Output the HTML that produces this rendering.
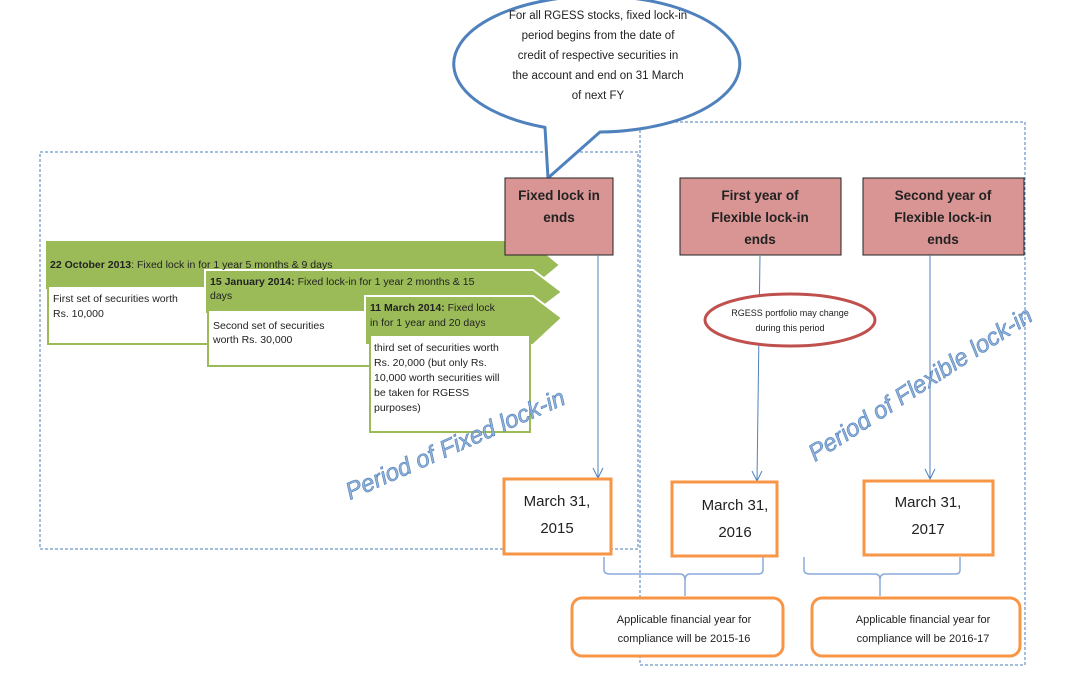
<!DOCTYPE html>
<html><head><style>
html,body{margin:0;padding:0;background:#fff;}
svg{display:block;font-family:"Liberation Sans",sans-serif;}
</style></head><body>
<svg width="1080" height="674" viewBox="0 0 1080 674" xmlns="http://www.w3.org/2000/svg">
<!-- dashed boxes -->
<rect x="40" y="152" width="598" height="397" fill="none" stroke="#4a7ebb" stroke-width="1" stroke-dasharray="3,2"/>
<rect x="640" y="122" width="385" height="543" fill="none" stroke="#4a7ebb" stroke-width="1" stroke-dasharray="3,2"/>

<!-- green arrows -->
<g stroke="#fff" stroke-width="2">
<polygon points="45,240 530,240 560,265 530,290 45,290" fill="#9bbb59"/>
<rect x="48" y="286" width="162" height="58" fill="#fff" stroke="#9bbb59"/>
<polygon points="205,270 533,270 562,292 533,314 205,314" fill="#9bbb59"/>
<rect x="208" y="310" width="162" height="56" fill="#fff" stroke="#9bbb59"/>
<polygon points="365,296 533,296 562,318 533,345 365,345" fill="#9bbb59"/>
<rect x="370" y="335" width="160" height="97" fill="#fff" stroke="#9bbb59"/>
</g>
<g font-size="10.5" fill="#222">
<text x="50" y="268"><tspan font-weight="bold">22 October 2013</tspan>: Fixed lock in for 1 year 5 months &amp; 9 days</text>
<text x="53" y="302">First set of securities worth</text>
<text x="53" y="317">Rs. 10,000</text>
<text x="210" y="285"><tspan font-weight="bold">15 January 2014:</tspan> Fixed lock-in for 1 year  2 months &amp; 15</text>
<text x="210" y="299">days</text>
<text x="213" y="329">Second set of securities</text>
<text x="213" y="343">worth Rs. 30,000</text>
<text x="370" y="311"><tspan font-weight="bold">11 March 2014:</tspan> Fixed lock</text>
<text x="370" y="326">in for 1 year and 20 days</text>
<text x="374" y="351">third set of securities worth</text>
<text x="374" y="366">Rs. 20,000 (but only Rs.</text>
<text x="374" y="381">10,000 worth securities will</text>
<text x="374" y="396">be taken for RGESS</text>
<text x="374" y="411">purposes)</text>
</g>

<!-- callout -->
<path d="M 545,127.4 A 143 68 0 1 1 600,132 L 548,178 Z" fill="#fff" stroke="#4f81bd" stroke-width="3" stroke-linejoin="round"/>
<g font-size="11.5" fill="#222" text-anchor="middle">
<text x="598" y="19">For all RGESS stocks, fixed lock-in</text>
<text x="598" y="39">period begins from the date of</text>
<text x="598" y="59">credit of respective securities in</text>
<text x="598" y="79">the account and end on 31 March</text>
<text x="598" y="99">of next FY</text>
</g>

<!-- pink boxes -->
<g fill="#d99594" stroke="#222" stroke-width="1">
<rect x="505" y="178" width="108" height="77"/>
<rect x="680" y="178" width="161" height="77"/>
<rect x="863" y="178" width="161" height="77"/>
</g>
<g font-size="13.5" font-weight="bold" fill="#222" text-anchor="middle">
<text x="559" y="200">Fixed lock in</text>
<text x="559" y="222">ends</text>
<text x="760" y="200">First year of</text>
<text x="760" y="222">Flexible lock-in</text>
<text x="760" y="244">ends</text>
<text x="943" y="200">Second year of</text>
<text x="943" y="222">Flexible lock-in</text>
<text x="943" y="244">ends</text>
</g>

<!-- connector arrows -->
<g stroke="#4f81bd" stroke-width="1" fill="none">
<line x1="598" y1="255" x2="598" y2="478"/><polyline points="593,468 598,478 603,468"/>
<line x1="760" y1="255" x2="757" y2="481"/><polyline points="752,471 757,481 762,471"/>
<line x1="930" y1="255" x2="930" y2="479"/><polyline points="925,469 930,479 935,469"/>
</g>

<!-- red ellipse -->
<ellipse cx="790" cy="320" rx="85" ry="26" fill="#fff" stroke="#c0504d" stroke-width="3"/>
<g font-size="9" fill="#222" text-anchor="middle">
<text x="790" y="316">RGESS portfolio may change</text>
<text x="790" y="331">during this period</text>
</g>

<!-- rotated labels -->
<g font-size="24" fill="#95b3d7" stroke="#4f81bd" stroke-width="0.6" font-style="italic">
<text transform="translate(350,500) rotate(-24)">Period of Fixed lock-in</text>
<text transform="translate(815,462) rotate(-33)">Period of Flexible lock-in</text>
</g>

<!-- orange boxes -->
<g fill="#fff" stroke="#f79646" stroke-width="3">
<rect x="504" y="479" width="107" height="75"/>
<rect x="672" y="482" width="105" height="74"/>
<rect x="864" y="481" width="129" height="74"/>
<rect x="572" y="598" width="211" height="58" rx="10"/>
<rect x="812" y="598" width="208" height="58" rx="10"/>
</g>
<g font-size="15" fill="#222" text-anchor="middle">
<text x="557" y="506">March 31,</text>
<text x="557" y="533">2015</text>
<text x="735" y="510">March 31,</text>
<text x="735" y="537">2016</text>
<text x="928" y="507">March 31,</text>
<text x="928" y="534">2017</text>
</g>
<g font-size="11" fill="#222" text-anchor="middle">
<text x="684" y="623">Applicable financial year for</text>
<text x="684" y="642">compliance will be 2015-16</text>
<text x="923" y="623">Applicable financial year for</text>
<text x="923" y="642">compliance will be 2016-17</text>
</g>

<!-- brackets -->
<g stroke="#8eaadb" stroke-width="1.5" fill="none">
<path d="M 604,557 L 604,570 Q 604,574 610,574 L 680,574 Q 685,574 685,580 L 685,596 M 685,580 Q 685,574 690,574 L 758,574 Q 763,574 763,570 L 763,557"/>
<path d="M 804,557 L 804,570 Q 804,574 810,574 L 875,574 Q 880,574 880,580 L 880,596 M 880,580 Q 880,574 885,574 L 955,574 Q 960,574 960,570 L 960,557"/>
</g>
</svg>
</body></html>
